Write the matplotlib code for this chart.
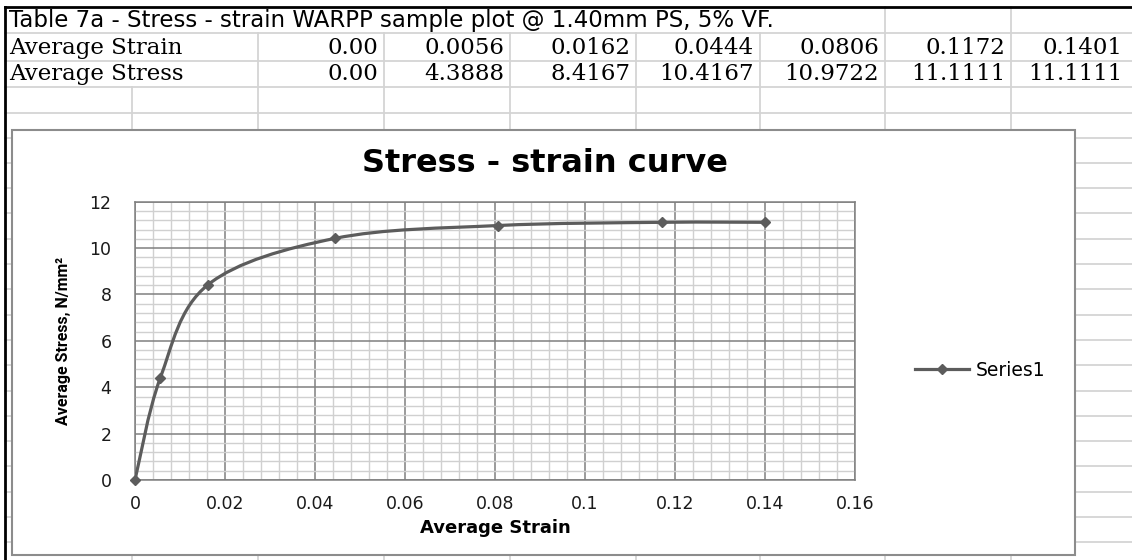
import numpy as np
import matplotlib
matplotlib.use('Agg')
import matplotlib.pyplot as plt
from matplotlib.path import Path
from matplotlib.patches import PathPatch, Rectangle
from matplotlib.lines import Line2D

# data (from the sheet)
strain = [0.00, 0.0056, 0.0162, 0.0444, 0.0806, 0.1172, 0.1401]
stress = [0.00, 4.3888, 8.4167, 10.4167, 10.9722, 11.1111, 11.1111]
strain_txt = ['0.00', '0.0056', '0.0162', '0.0444', '0.0806', '0.1172', '0.1401']
stress_txt = ['0.00', '4.3888', '8.4167', '10.4167', '10.9722', '11.1111', '11.1111']
table_title = 'Table 7a - Stress - strain WARPP sample plot @ 1.40mm PS, 5% VF.'
row_names = ['Average Strain', 'Average Stress']
chart_title = 'Stress - strain curve'
x_label = 'Average Strain'
y_label = 'Average Stress, N/mm\u00b2'
series_name = 'Series1'

W, H = 1132, 560
fig = plt.figure(figsize=(W / 100, H / 100), dpi=100)

# background "spreadsheet" layer in pixel coords
bg = fig.add_axes([0, 0, 1, 1])
bg.set_xlim(0, W)
bg.set_ylim(H, 0)
bg.axis('off')

grid_c = '#d4d4d4'
col_lines = [132, 258, 384, 510, 636, 760, 885, 1011]
row_lines = [33, 61, 87, 113]
rows_below = [137.5 + 25.3 * k for k in range(17)]

# table rows
for y in row_lines:
    bg.plot([5, W], [y, y], color=grid_c, lw=1.3)
for x in col_lines:
    if x >= 885:
        bg.plot([x, x], [7, 33], color=grid_c, lw=1.3)
    if x >= 258:
        bg.plot([x, x], [33, 87], color=grid_c, lw=1.3)
    bg.plot([x, x], [87, H], color=grid_c, lw=1.3)
for y in rows_below:
    bg.plot([5, W], [y, y], color=grid_c, lw=1.3)

# black outer border
bg.plot([5, W], [7, 7], color='black', lw=2)
bg.plot([5, 5], [7, H], color='black', lw=2)

# table text
bg.text(9, 21, table_title, fontsize=16.5, family='DejaVu Sans', va='center', ha='left')
rights = col_lines[2:] + [1128]
for i, name in enumerate(row_names):
    yc = 48 + i * 26
    bg.text(9, yc, name, fontsize=16.5, family='DejaVu Serif', va='center', ha='left')
    vals = strain_txt if i == 0 else stress_txt
    for v, xr in zip(vals, rights):
        bg.text(xr - 6, yc, v, fontsize=16.5, family='DejaVu Serif', va='center', ha='right')

# chart box
bg.add_patch(Rectangle((12, 130), 1075 - 12, 555 - 130, facecolor='white',
                       edgecolor='#8c8c8c', lw=1.5, zorder=5))

bg.text(545, 163, chart_title, fontsize=23, fontweight='bold', ha='center', va='center', zorder=6)

# plot area
x0, x1, ytop, ybot = 135, 855, 201.7, 480
ax = fig.add_axes([x0 / W, 1 - ybot / H, (x1 - x0) / W, (ybot - ytop) / H])
ax.set_zorder(10)
ax.set_xlim(0, 0.16)
ax.set_ylim(0, 12)
ax.set_xticks(np.arange(0, 0.161, 0.02))
ax.set_xticklabels(['0', '0.02', '0.04', '0.06', '0.08', '0.1', '0.12', '0.14', '0.16'])
ax.set_yticks(np.arange(0, 12.1, 2))
ax.set_xticks(np.arange(0, 0.1601, 0.004), minor=True)
ax.set_yticks(np.arange(0, 12.01, 0.4), minor=True)
ax.grid(True, which='minor', color='#d0d0d0', lw=1)
ax.grid(True, which='major', color='#808080', lw=1.1)
ax.set_axisbelow(True)
ax.tick_params(which='both', length=0)
ax.tick_params(axis='x', pad=11, labelsize=12.5, colors='#1a1a1a')
ax.tick_params(axis='y', pad=17, labelsize=12.5, colors='#1a1a1a')
for s in ax.spines.values():
    s.set_color('#808080')
    s.set_linewidth(1.1)

ax.set_xlabel(x_label, fontsize=13, fontweight='bold')
ax.xaxis.set_label_coords(0.5, -(528 - ybot) / (ybot - ytop))
ax.xaxis.label.set_va('center')
ax.set_ylabel(y_label, fontsize=11.5, fontweight='bold', family='Roboto')
ax.yaxis.set_label_coords((63 - x0) / (x1 - x0), 0.5)
ax.yaxis.label.set_va('center')

# smoothed line like excel (bezier through the points, in pixel space)
line_c = '#5c5c5c'
sx = (x1 - x0) / 0.16
sy = (ybot - ytop) / 12
P = np.column_stack([np.array(strain) * sx, np.array(stress) * sy])
n = len(P)
verts = [P[0]]
codes = [Path.MOVETO]
for i in range(n - 1):
    pm = P[max(i - 1, 0)]
    pp = P[min(i + 2, n - 1)]
    c1 = P[i] + (P[i + 1] - pm) / 6
    c2 = P[i + 1] - (pp - P[i]) / 6
    verts += [c1, c2, P[i + 1]]
    codes += [Path.CURVE4] * 3
verts = np.array(verts) / [sx, sy]
ax.add_patch(PathPatch(Path(verts, codes), facecolor='none', edgecolor=line_c, lw=2.3,
                       capstyle='round', joinstyle='round', zorder=3))
ax.plot(strain, stress, linestyle='none', marker='D', markersize=5.5, color=line_c,
        clip_on=False, zorder=4)

handle = Line2D([], [], color=line_c, lw=2.3, marker='D', markersize=5.5)
fig.legend([handle], [series_name], loc='center left', bbox_to_anchor=(915 / W, 1 - 370 / H),
           frameon=False, fontsize=13.5, handlelength=2.9, handletextpad=0.32,
           borderpad=0, borderaxespad=0)

fig.savefig('out.png', dpi=100)
